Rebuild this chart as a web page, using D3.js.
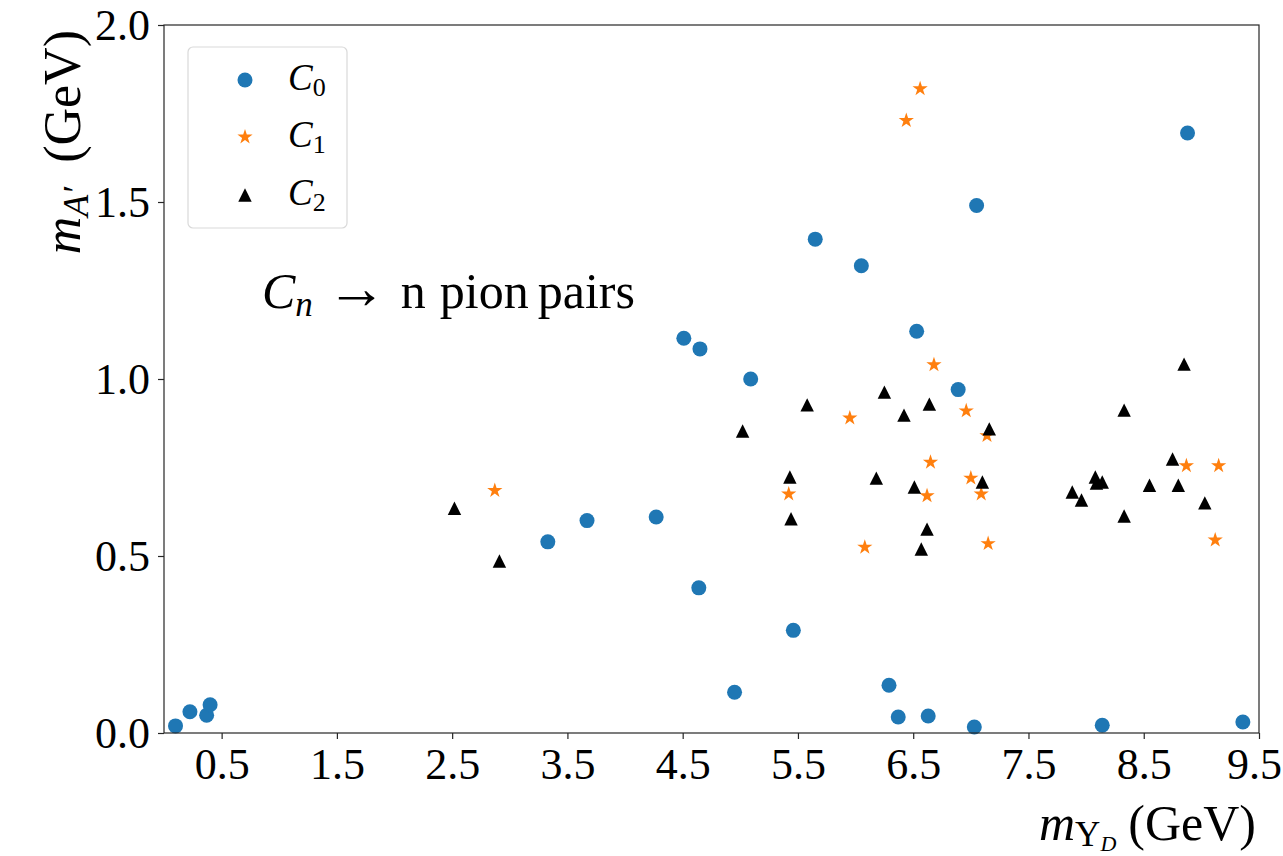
<!DOCTYPE html>
<html>
<head>
<meta charset="utf-8">
<script src="https://cdn.jsdelivr.net/npm/d3@7"></script>
<style>
  html, body { margin: 0; padding: 0; background: #fff; }
  svg { display: block; }
  text { font-family: "Liberation Serif", "Times New Roman", serif; fill: #000; }
</style>
</head>
<body>
<svg id="chart" width="1283" height="856"></svg>
<script>
// ---- data ----
const c0X = [0.10, 0.225, 0.37, 0.40, 3.33, 3.67, 4.27, 4.51, 4.65, 4.64, 5.09, 4.95, 5.65, 5.46, 6.05, 6.29, 6.37, 6.53, 6.63, 6.89, 7.05, 7.03, 8.88, 8.14, 9.36];
const c0Y = [0.02, 0.06, 0.05, 0.08, 0.54, 0.60, 0.61, 1.115, 1.085, 0.41, 1.00, 0.115, 1.395, 0.29, 1.32, 0.135, 0.045, 1.135, 0.048, 0.97, 1.49, 0.017, 1.695, 0.022, 0.031];

const c1X = [2.87, 6.56, 6.44, 6.68, 5.95, 6.96, 7.14, 6.65, 7.00, 6.62, 7.09, 5.42, 6.08, 7.15, 8.87, 9.15, 9.12];
const c1Y = [0.685, 1.82, 1.73, 1.04, 0.89, 0.91, 0.84, 0.765, 0.72, 0.67, 0.675, 0.675, 0.525, 0.535, 0.755, 0.755, 0.545];

const c2X = [2.52, 2.91, 5.02, 5.43, 5.44, 5.58, 6.18, 6.25, 6.42, 6.51, 6.57, 6.62, 6.64, 7.16, 7.10, 7.88, 7.96, 8.08, 8.14, 8.09, 8.33, 8.33, 8.55, 8.75, 8.80, 8.85, 9.03];
const c2Y = [0.635, 0.486, 0.853, 0.723, 0.605, 0.927, 0.72, 0.963, 0.898, 0.695, 0.52, 0.576, 0.929, 0.859, 0.709, 0.681, 0.658, 0.723, 0.709, 0.706, 0.912, 0.613, 0.70, 0.774, 0.70, 1.042, 0.65];

const seriesNames = ["0", "1", "2"];
const xTicks = [0.5, 1.5, 2.5, 3.5, 4.5, 5.5, 6.5, 7.5, 8.5, 9.5];
const yTicks = [0.0, 0.5, 1.0, 1.5, 2.0];
const xDomain = [0, 9.5];
const yDomain = [0, 2.0];

// ---- layout ----
const svg = d3.select("#chart");
const pLeft = 164, pRight = 1259, pTop = 25, pBottom = 733;

const x = d3.scaleLinear().domain(xDomain).range([pLeft, pRight]);
const y = d3.scaleLinear().domain(yDomain).range([pBottom, pTop]);

// triangle-up symbol like matplotlib '^' (bbox centred)
const triUp = {
  draw(ctx, size) {
    const h = Math.sqrt(size) / 2;
    ctx.moveTo(0, -h);
    ctx.lineTo(h, h);
    ctx.lineTo(-h, h);
    ctx.closePath();
  }
};

const styles = [
  { color: "#1f77b4", sym: d3.symbolCircle, size: Math.PI * 7.5 * 7.5 },
  { color: "#ff7f0e", sym: d3.symbolStar, size: 72 },
  { color: "#000000", sym: triUp, size: 180 }
];

const series = [
  c0X.map((v, i) => [v, c0Y[i]]),
  c1X.map((v, i) => [v, c1Y[i]]),
  c2X.map((v, i) => [v, c2Y[i]])
];

// ---- markers ----
series.forEach((pts, si) => {
  const st = styles[si];
  svg.append("g").selectAll("path").data(pts).join("path")
    .attr("d", d3.symbol().type(st.sym).size(st.size))
    .attr("transform", d => `translate(${x(d[0])},${y(d[1])})`)
    .attr("fill", st.color);
});

// ---- axes ----
const axisColor = "#262626";
const xAxis = svg.append("g").attr("transform", `translate(0,${pBottom})`)
  .call(d3.axisBottom(x).tickValues(xTicks).tickFormat(d3.format(".1f")).tickSizeOuter(0).tickSize(6).tickPadding(8));
const yAxis = svg.append("g").attr("transform", `translate(${pLeft},0)`)
  .call(d3.axisLeft(y).tickValues(yTicks).tickFormat(d3.format(".1f")).tickSizeOuter(0).tickSize(6).tickPadding(8));

[xAxis, yAxis].forEach(g => {
  g.select(".domain").remove();
  g.selectAll(".tick line").attr("stroke", axisColor).attr("stroke-width", 1.2);
  g.selectAll(".tick text").attr("font-size", 44).attr("fill", "#000")
    .style("font-family", '"Liberation Serif", serif');
});
xAxis.selectAll(".tick text").attr("dy", "0.72em");
// keep the last label inside the page, as in the reference
xAxis.selectAll(".tick text").filter(d => d === 9.5).attr("dx", -5);
yAxis.selectAll(".tick text").attr("dy", "0.34em");

// spines (frame)
svg.append("rect")
  .attr("x", pLeft).attr("y", pTop)
  .attr("width", pRight - pLeft).attr("height", pBottom - pTop)
  .attr("fill", "none").attr("stroke", axisColor).attr("stroke-width", 1.2);

// ---- axis labels ----
const xl = svg.append("text")
  .attr("x", 1256).attr("y", 840)
  .attr("text-anchor", "end").attr("font-size", 50);
xl.append("tspan").attr("font-style", "italic").text("m");
xl.append("tspan").attr("font-size", 35).attr("dy", 6).text("Υ");
xl.append("tspan").attr("font-size", 22).attr("font-style", "italic").attr("dy", 5).text("D");
xl.append("tspan").attr("dy", -11).attr("dx", 12).text("(GeV)");

const yl = svg.append("text")
  .attr("transform", "rotate(-90)")
  .attr("x", -30).attr("y", 80)
  .attr("text-anchor", "end").attr("font-size", 52);
yl.append("tspan").attr("font-style", "italic").text("m");
yl.append("tspan").attr("font-size", 36).attr("font-style", "italic").attr("dy", 8).text("A′");
yl.append("tspan").attr("dy", -8).attr("dx", 24).text("(GeV)");

// ---- annotation ----
const ann = svg.append("text")
  .attr("x", 262).attr("y", 308).attr("font-size", 50);
ann.append("tspan").attr("font-style", "italic").text("C");
ann.append("tspan").attr("font-size", 35).attr("font-style", "italic").attr("dy", 8).text("n");
ann.append("tspan").attr("dy", -8).attr("dx", 14).attr("font-size", 60).text("→");
ann.append("tspan").attr("dx", 14).text("n");
ann.append("tspan").attr("dx", 14).text("pion");
ann.append("tspan").attr("dx", 9).text("pairs");

// ---- legend ----
const lg = svg.append("g");
lg.append("rect")
  .attr("x", 188).attr("y", 47).attr("width", 159).attr("height", 181)
  .attr("rx", 5).attr("ry", 5)
  .attr("fill", "#fff").attr("fill-opacity", 0.8)
  .attr("stroke", "#d9d9d9").attr("stroke-width", 1.2);
const rowY = [80, 137, 195];
seriesNames.forEach((n, i) => {
  const st = styles[i];
  lg.append("path")
    .attr("d", d3.symbol().type(st.sym).size(st.size))
    .attr("transform", `translate(245,${rowY[i]})`)
    .attr("fill", st.color);
  const t = lg.append("text").attr("x", 288).attr("y", rowY[i] + 10).attr("font-size", 37);
  t.append("tspan").attr("font-style", "italic").text("C");
  t.append("tspan").attr("font-size", 26).attr("dy", 6).text(n);
});
</script>
</body>
</html>
